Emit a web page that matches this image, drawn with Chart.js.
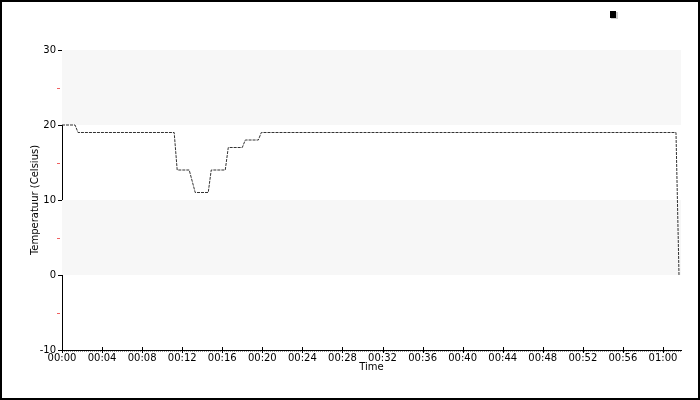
<!DOCTYPE html>
<html>
<head>
<meta charset="utf-8">
<script src="https://cdn.jsdelivr.net/npm/chart.js@4/dist/chart.umd.min.js"></script>
<style>
  html, body { margin: 0; padding: 0; background: #fff; }
  #wrap { width: 700px; height: 400px; position: relative; }
</style>
</head>
<body>
<div id="wrap"><canvas id="c" width="700" height="400"></canvas></div>
<script>
// ── Data (time in minutes, temperature in °C) ──
const timeMin = [0, 1.3, 1.6, 11.2, 11.5, 12.7, 13.3, 14.6, 14.9, 16.3, 16.6, 18.0, 18.3, 19.6, 19.9, 61.3, 61.6];
const tempC   = [20, 20, 19, 19, 14, 14, 11, 11, 14, 14, 17, 17, 18, 18, 19, 19, 0];
const yMajor  = [-10, 0, 10, 20, 30];
const yMinor  = [-5, 5, 15, 25];
const bands   = [[20, 30], [0, 10]];

const FONT = { family: 'DejaVu Sans', size: 10 };

function fmtTime(v) {
  const h = Math.floor(v / 60), m = Math.round(v % 60);
  return String(h).padStart(2, '0') + ':' + String(m).padStart(2, '0');
}

// bands, custom ticks, frame and legend marker
const decor = {
  id: 'decor',
  beforeDatasetsDraw(chart) {
    const { ctx, chartArea: a, scales: { y } } = chart;
    ctx.save();
    ctx.fillStyle = '#f7f7f7';
    bands.forEach(([lo, hi]) => {
      const t = y.getPixelForValue(hi), b = y.getPixelForValue(lo);
      ctx.fillRect(a.left, t, a.right - a.left, b - t);
    });
    ctx.restore();
  },
  afterDraw(chart) {
    const { ctx, chartArea: a, scales: { x, y } } = chart;
    ctx.save();
    ctx.lineWidth = 1;
    // y ticks
    ctx.strokeStyle = '#000';
    yMajor.forEach(v => {
      const py = Math.round(y.getPixelForValue(v)) + 0.5;
      ctx.beginPath(); ctx.moveTo(a.left - 4, py); ctx.lineTo(a.left, py); ctx.stroke();
    });
    ctx.strokeStyle = '#f06060';
    yMinor.forEach(v => {
      const py = Math.round(y.getPixelForValue(v)) + 0.5;
      ctx.beginPath(); ctx.moveTo(a.left - 5, py); ctx.lineTo(a.left - 2, py); ctx.stroke();
    });
    // x minor ticks (dotted strip under the axis)
    ctx.strokeStyle = '#999';
    ctx.setLineDash([1, 1]);
    ctx.beginPath(); ctx.moveTo(a.left, a.bottom + 1.5); ctx.lineTo(a.right, a.bottom + 1.5); ctx.stroke();
    ctx.setLineDash([]);
    // x major ticks
    ctx.strokeStyle = '#000';
    x.ticks.forEach(t => {
      const px = Math.round(x.getPixelForValue(t.value)) + 0.5;
      ctx.beginPath(); ctx.moveTo(px, a.bottom - 3); ctx.lineTo(px, a.bottom + 3); ctx.stroke();
    });
    // legend marker
    ctx.fillStyle = '#ccc';
    ctx.fillRect(611, 12, 7, 7);
    ctx.fillStyle = '#000';
    ctx.fillRect(610, 11, 6, 7);
    // frame
    ctx.strokeStyle = '#000';
    ctx.lineWidth = 2;
    ctx.strokeRect(1, 1, 698, 398);
    ctx.restore();
  }
};

new Chart(document.getElementById('c'), {
  type: 'line',
  data: {
    datasets: [{
      data: timeMin.map((t, i) => ({ x: t, y: tempC[i] })),
      borderColor: '#333',
      borderWidth: 1,
      borderDash: [3, 1],
      pointRadius: 0,
      fill: false,
      tension: 0,
    }],
  },
  options: {
    responsive: false,
    animation: false,
    layout: { padding: { top: 50, right: 19, bottom: 20, left: 0 } },
    plugins: { legend: { display: false }, tooltip: { enabled: false } },
    scales: {
      x: {
        type: 'linear',
        min: 0,
        max: 61.8,
        grid: { display: false, drawTicks: false, tickLength: 0 },
        border: { display: true, color: '#000', width: 1 },
        ticks: {
          stepSize: 4,
          includeBounds: false,
          maxRotation: 0,
          autoSkip: false,
          padding: 2,
          color: '#000',
          font: FONT,
          callback: v => fmtTime(v),
        },
        title: { display: true, text: 'Time', color: '#000', font: FONT, padding: { top: 0, bottom: 7 } },
        afterFit: s => { s.height = 30; },
      },
      y: {
        min: -10,
        max: 30,
        grid: { display: false, drawTicks: false, tickLength: 0 },
        border: { display: true, color: '#000', width: 1 },
        ticks: {
          stepSize: 10,
          padding: 6,
          color: '#000',
          font: FONT,
        },
        title: { display: true, text: 'Temperatuur (Celsius)', color: '#000', font: FONT, padding: { top: 29, bottom: 0 } },
        afterFit: s => { s.width = 62; },
      },
    },
  },
  plugins: [decor],
});
</script>
</body>
</html>
